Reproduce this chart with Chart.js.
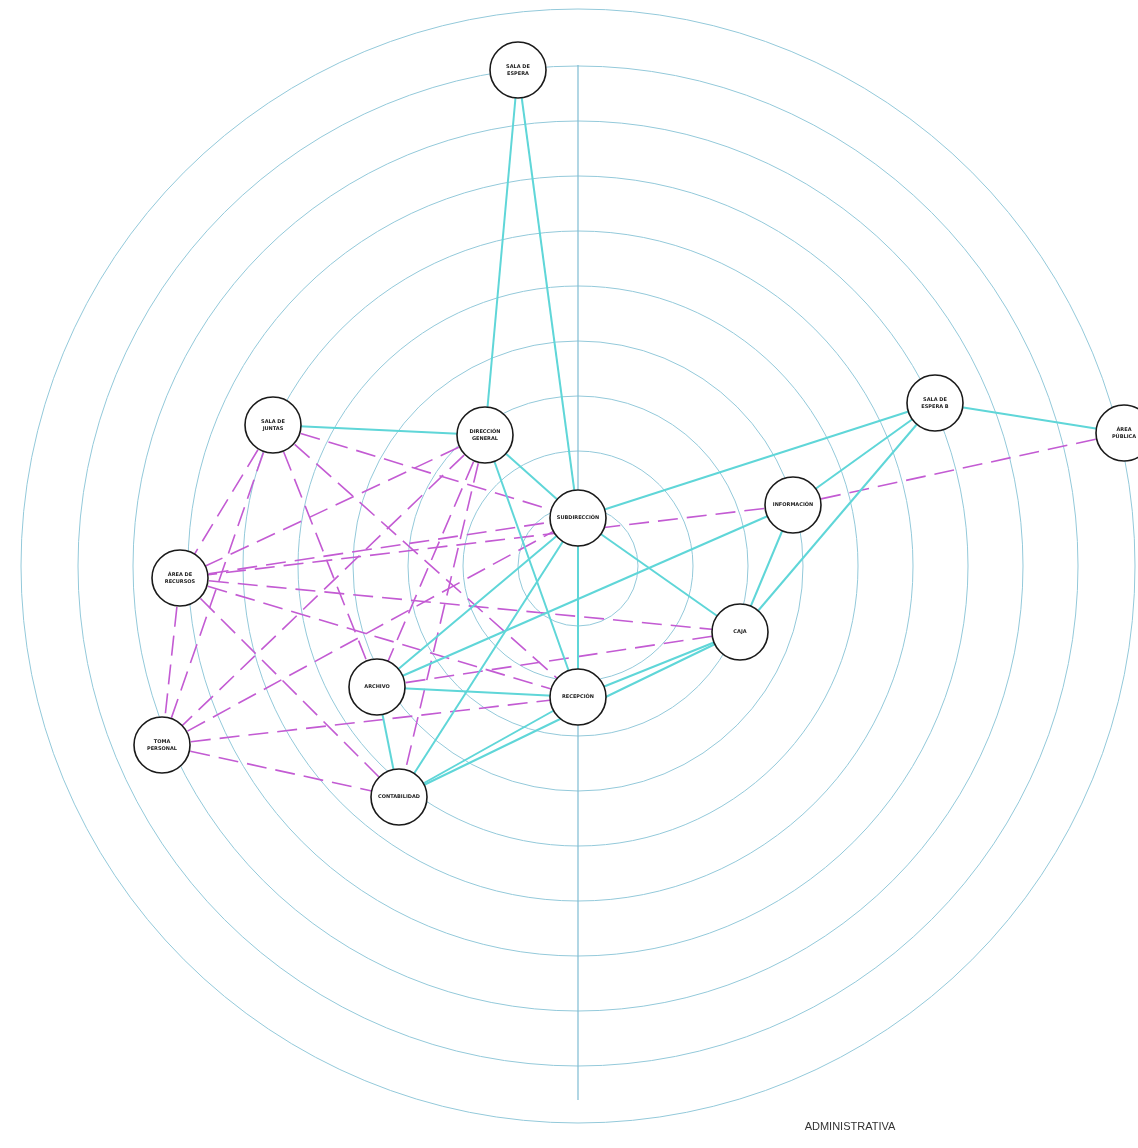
<!DOCTYPE html>
<html>
<head>
<meta charset="utf-8">
<script src="https://cdn.jsdelivr.net/npm/chart.js@4.4.0/dist/chart.umd.min.js"></script>
<style>
  html, body { margin: 0; padding: 0; background: #ffffff; }
  #wrap { width: 1138px; height: 1148px; }
</style>
</head>
<body>
<div id="wrap"><canvas id="diagram" width="1138" height="1148"></canvas></div>
<script>
// Knoten (Räume) mit Position im Diagramm
const nodeKeys = ['espera', 'juntas', 'direccion', 'subdir', 'esperaB', 'publica', 'info',
                  'recursos', 'caja', 'archivo', 'recepcion', 'personal', 'contab'];
const nodeLabels = [['SALA DE', 'ESPERA'], ['SALA DE', 'JUNTAS'], ['DIRECCIÓN', 'GENERAL'],
                    ['SUBDIRECCIÓN'], ['SALA DE', 'ESPERA B'], ['ÁREA', 'PÚBLICA'], ['INFORMACIÓN'],
                    ['ÁREA DE', 'RECURSOS'], ['CAJA'], ['ARCHIVO'], ['RECEPCIÓN'],
                    ['TOMA', 'PERSONAL'], ['CONTABILIDAD']];
const nodeX = [518, 273, 485, 578, 935, 1124, 793, 180, 740, 377, 578, 162, 399];
const nodeY = [70, 425, 435, 518, 403, 433, 505, 578, 632, 687, 697, 745, 797];

// Beziehungen: direkt (durchgezogen) und indirekt (gestrichelt)
const solidLinks = [
    ['espera', 'direccion'], ['espera', 'subdir'], ['juntas', 'direccion'], ['direccion', 'subdir'],
    ['direccion', 'recepcion'], ['esperaB', 'publica'], ['esperaB', 'subdir'], ['esperaB', 'info'],
    ['esperaB', 'caja'], ['subdir', 'caja'], ['subdir', 'recepcion'], ['subdir', 'archivo'],
    ['subdir', 'contab'], ['archivo', 'recepcion'], ['archivo', 'contab'], ['recepcion', 'caja'],
    ['caja', 'contab'], ['info', 'caja'], ['info', 'archivo'], ['recepcion', 'contab']
];
const dashedLinks = [
    ['publica', 'info'], ['info', 'recursos'], ['juntas', 'recursos'], ['juntas', 'personal'],
    ['juntas', 'subdir'], ['juntas', 'archivo'], ['juntas', 'recepcion'], ['direccion', 'recursos'],
    ['direccion', 'personal'], ['direccion', 'archivo'], ['direccion', 'contab'], ['recursos', 'subdir'],
    ['recursos', 'caja'], ['recursos', 'recepcion'], ['recursos', 'personal'], ['recursos', 'contab'],
    ['personal', 'subdir'], ['personal', 'recepcion'], ['personal', 'contab'], ['archivo', 'caja']
];

// Konzentrische Ringe um das Zentrum
const ringCenter = [578, 566];
const ringRadii = [60, 115, 170, 225, 280, 335, 390, 445, 500, 557];
const axisLineY = [65, 1100];
const footerText = 'ADMINISTRATIVA';

function pos(key) {
    const i = nodeKeys.indexOf(key);
    return { x: nodeX[i], y: nodeY[i] };
}

function linkDatasets(links, dashed) {
    return links.map(l => ({
        type: 'line',
        data: [pos(l[0]), pos(l[1])],
        borderColor: dashed ? '#c35bd3' : '#5fd6d8',
        borderWidth: dashed ? 1.6 : 2,
        borderDash: dashed ? [20, 9] : [],
        pointRadius: 0,
        fill: false,
        tension: 0,
        clip: false,
        order: 2
    }));
}

// Ringe zeichnen, bevor die Datensätze gezeichnet werden
const ringPlugin = {
    id: 'rings',
    beforeDatasetsDraw(c) {
        const xs = c.scales.x, ys = c.scales.y;
        const cx = xs.getPixelForValue(ringCenter[0]);
        const cy = ys.getPixelForValue(ringCenter[1]);
        const ctx = c.ctx;
        ctx.save();
        ctx.strokeStyle = '#93c9da';
        ctx.lineWidth = 1;
        ringRadii.forEach(r => {
            const rp = xs.getPixelForValue(ringCenter[0] + r) - cx;
            ctx.beginPath();
            ctx.arc(cx, cy, rp, 0, Math.PI * 2);
            ctx.stroke();
        });
        ctx.restore();
    }
};

// Beschriftungen in die Kreise schreiben
const labelPlugin = {
    id: 'nodeLabels',
    afterDatasetsDraw(c) {
        const meta = c.getDatasetMeta(0);
        const ctx = c.ctx;
        ctx.save();
        ctx.fillStyle = '#222';
        ctx.font = 'bold 5px "DejaVu Sans", Arial, sans-serif';
        ctx.textAlign = 'center';
        ctx.textBaseline = 'middle';
        meta.data.forEach((pt, i) => {
            const lines = nodeLabels[i];
            lines.forEach((t, j) => {
                ctx.fillText(t, pt.x, pt.y + (j - (lines.length - 1) / 2) * 7);
            });
        });
        ctx.font = '11px "Liberation Sans", Arial, sans-serif';
        ctx.fillStyle = '#333';
        ctx.fillText(footerText, c.scales.x.getPixelForValue(850), c.scales.y.getPixelForValue(1127));
        ctx.restore();
    }
};

const datasets = [{
    type: 'scatter',
    data: nodeKeys.map(k => pos(k)),
    pointRadius: 28,
    pointHoverRadius: 28,
    pointBackgroundColor: '#ffffff',
    pointBorderColor: '#1a1a1a',
    pointBorderWidth: 1.6,
    clip: false,
    order: 0
}];
datasets.push(...linkDatasets(solidLinks, false));
datasets.push(...linkDatasets(dashedLinks, true));
datasets.push({
    type: 'line',
    data: [{ x: ringCenter[0], y: axisLineY[0] }, { x: ringCenter[0], y: axisLineY[1] }],
    borderColor: '#7fbcd2',
    borderWidth: 1.2,
    pointRadius: 0,
    order: 3
});

new Chart(document.getElementById('diagram').getContext('2d'), {
    type: 'scatter',
    data: { datasets: datasets },
    options: {
        responsive: false,
        animation: false,
        layout: { padding: 0, autoPadding: false },
        plugins: { legend: { display: false }, tooltip: { enabled: false } },
        scales: {
            x: { type: 'linear', min: 0, max: 1138, display: false },
            y: { type: 'linear', min: 0, max: 1148, reverse: true, display: false }
        }
    },
    plugins: [ringPlugin, labelPlugin]
});
</script>
</body>
</html>
